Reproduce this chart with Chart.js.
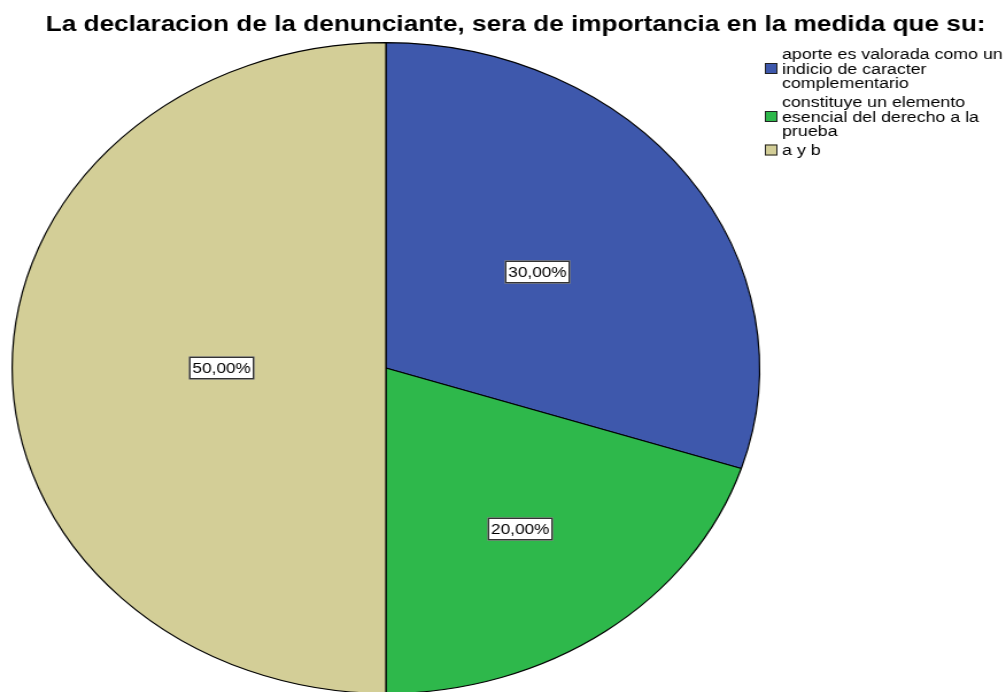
<!DOCTYPE html>
<html>
<head>
<meta charset="utf-8">
<script src="https://cdn.jsdelivr.net/npm/chart.js@4.4.0/dist/chart.umd.min.js"></script>
<style>
    html, body { margin: 0; padding: 0; background: #fff; overflow: hidden; }
    /* the original picture is stretched sideways, so the round pie becomes an ellipse */
    #stage { width: 876px; height: 700px; transform: scale(1.1484, 1); transform-origin: 0 0; }
</style>
</head>
<body>
<div id="stage"><canvas id="pieChart"></canvas></div>
<script>
const chartTitle = 'La declaracion de la denunciante, sera de importancia en la medida que su:';

const categories = [
    ['aporte es valorada como un', 'indicio de caracter', 'complementario'],
    ['constituye un elemento', 'esencial del derecho a la', 'prueba'],
    ['a y b'],
];
const percentages = [30, 20, 50];
const valueLabels = ['30,00%', '20,00%', '50,00%'];

const sliceColors = ['#3e58ac', '#2eb84b', '#d3ce97'];
const labelRadius = [0.5, 0.61, 0.44];
const FONT = '"Liberation Sans", Arial, sans-serif';

const titlePlugin = {
    id: 'spssTitle',
    afterDraw(chart) {
        const ctx = chart.ctx;
        ctx.save();
        ctx.font = `bold 22.8px ${FONT}`;
        ctx.fillStyle = '#000';
        ctx.textAlign = 'center';
        ctx.textBaseline = 'alphabetic';
        ctx.fillText(chartTitle, 449, 31);
        ctx.restore();
    }
};

const legendPlugin = {
    id: 'spssLegend',
    afterDraw(chart) {
        const ctx = chart.ctx;
        const lineHeight = 14.5;
        const itemGap = 4.5;
        let y = 55;
        ctx.save();
        ctx.font = `15.5px ${FONT}`;
        ctx.textBaseline = 'middle';
        categories.forEach((lines, i) => {
            const mid = y + ((lines.length - 1) / 2) * lineHeight;
            ctx.fillStyle = sliceColors[i];
            ctx.fillRect(666, mid - 6.5, 11, 11);
            ctx.strokeStyle = '#222';
            ctx.lineWidth = 1;
            ctx.strokeRect(666.5, mid - 6, 10, 10);
            ctx.fillStyle = '#000';
            lines.forEach((line, j) => {
                ctx.fillText(line, 681, y + j * lineHeight);
            });
            y += lines.length * lineHeight + itemGap;
        });
        ctx.restore();
    }
};

const valueLabelPlugin = {
    id: 'spssValueLabels',
    afterDatasetsDraw(chart) {
        const ctx = chart.ctx;
        const arcs = chart.getDatasetMeta(0).data;
        ctx.save();
        ctx.font = `15px ${FONT}`;
        ctx.textAlign = 'center';
        ctx.textBaseline = 'middle';
        arcs.forEach((arc, i) => {
            const mid = (arc.startAngle + arc.endAngle) / 2;
            const r = arc.outerRadius * labelRadius[i];
            const x = Math.round(arc.x + Math.cos(mid) * r);
            const y = Math.round(arc.y + Math.sin(mid) * r);
            const w = Math.ceil(ctx.measureText(valueLabels[i]).width) + 6;
            const h = 23;
            ctx.fillStyle = '#fff';
            ctx.fillRect(x - w / 2, y - h / 2, w, h);
            ctx.strokeStyle = '#333';
            ctx.lineWidth = 1.5;
            ctx.strokeRect(x - w / 2 + 0.75, y - h / 2 + 0.75, w - 1.5, h - 1.5);
            ctx.fillStyle = '#000';
            ctx.fillText(valueLabels[i], x, y + 1);
        });
        ctx.restore();
    }
};

new Chart(document.getElementById('pieChart'), {
    type: 'pie',
    data: {
        labels: categories,
        datasets: [
            {
                data: percentages,
                backgroundColor: sliceColors,
                borderColor: '#000',
                borderWidth: 1.2,
            }
        ]
    },
    options: {
        responsive: true,
        maintainAspectRatio: false,
        animation: false,
        layout: {
            padding: { left: 10, right: 214, top: 42, bottom: 6 }
        },
        plugins: {
            legend: { display: false },
            title: { display: false },
            tooltip: { enabled: false }
        }
    },
    plugins: [titlePlugin, legendPlugin, valueLabelPlugin]
});
</script>
</body>
</html>
